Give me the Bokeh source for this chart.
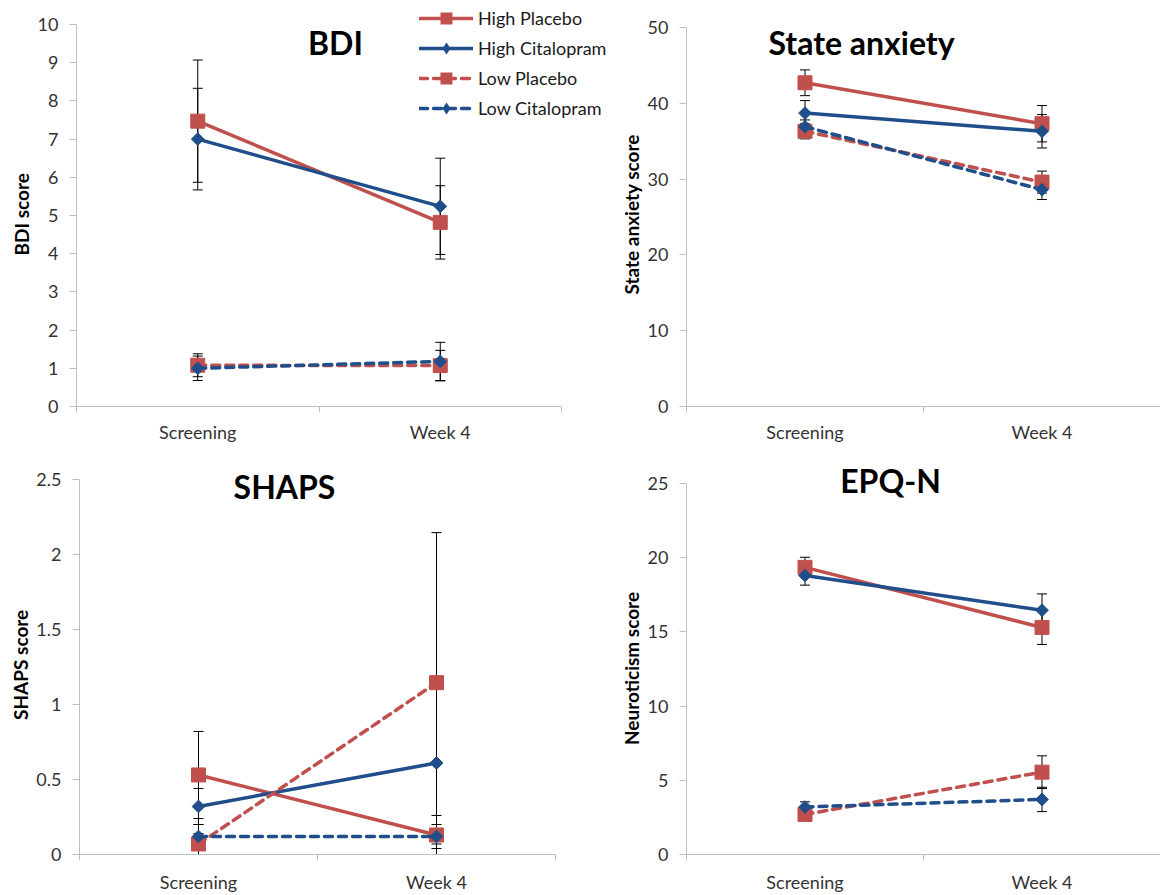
import math

from bokeh.plotting import figure
from bokeh.models import (ColumnDataSource, Range1d, FixedTicker, SingleIntervalTicker,
                          NumeralTickFormatter, Whisker, TeeHead, Legend, LegendItem,
                          Label, Title)
from bokeh.layouts import column, row
from bokeh.embed import file_html
from bokeh.resources import INLINE

# ---- data -------------------------------------------------------------
categories = ["Screening", "Week 4"]
groups = ["High Placebo", "High Citalopram", "Low Placebo", "Low Citalopram"]

# means per group (rows follow `groups`), columns follow `categories`
bdi_mean = [[7.47, 4.82], [7.00, 5.24], [1.08, 1.07], [1.00, 1.18]]
bdi_err = [[1.60, 0.96], [1.33, 1.26], [0.30, 0.40], [0.32, 0.50]]

stai_mean = [[42.7, 37.3], [38.7, 36.3], [36.3, 29.6], [36.9, 28.6]]
stai_err = [[1.7, 2.4], [1.65, 2.2], [1.0, 1.45], [0.9, 1.3]]

shaps_mean = [[0.53, 0.13], [0.32, 0.61], [0.07, 1.145], [0.12, 0.12]]
shaps_err = [[0.29, 0.13], [0.12, 0.54], [0.07, 1.0], [0.08, 0.08]]

epq_mean = [[19.35, 15.3], [18.8, 16.46], [2.70, 5.55], [3.20, 3.71]]
epq_err = [[0.68, 1.15], [0.65, 1.10], [0.40, 1.10], [0.35, 0.82]]

# ---- styling ----------------------------------------------------------
FONT = "Lato"
RED = "#C0504D"
BLUE = "#1F4E8A"
AXIS_GREY = "#BFBFBF"
TICK_TEXT = "#333333"
DASH = "8 6"

# plot marker (with rotation) and the marker shown in the legend
series_style = [
    dict(color=RED, marker="square", size=14, angle=0, key_marker="square", dash="solid"),
    dict(color=BLUE, marker="square", size=9, angle=math.pi / 4, key_marker="diamond", dash="solid"),
    dict(color=RED, marker="square", size=14, angle=0, key_marker="square", dash=DASH),
    dict(color=BLUE, marker="square", size=9, angle=math.pi / 4, key_marker="diamond", dash=DASH),
]

xs = [i + 0.5 for i in range(len(categories))]
edges = list(range(len(categories) + 1))
n_cat = len(categories)


def make_panel(title, ylabel, ylabel_len, means, errs, ymax, step, width, height,
               frame_left, frame_bottom, ytop_px, cat_w, title_xy,
               xlabel_standoff=10, with_legend=False, legend_loc=None):
    # the frame fills the figure to its top and right edges so that the
    # in-plot title and legend are never clipped; axis bounds stop the
    # axis lines at the last category edge and at the top tick
    x_end = (width - frame_left) / cat_w
    y_end = ymax * frame_bottom / (frame_bottom - ytop_px)
    p = figure(width=width, height=height, title=None,
               x_range=Range1d(0, x_end), y_range=Range1d(0, y_end),
               output_backend="svg", toolbar_location=None,
               min_border_left=frame_left, min_border_right=0,
               min_border_top=0, min_border_bottom=height - frame_bottom)
    p.outline_line_color = None
    p.xgrid.visible = False
    p.ygrid.visible = False

    # x axis: labels at category centres, tick marks on category edges
    xa = p.xaxis[0]
    xa.bounds = (0, n_cat)
    xa.ticker = FixedTicker(ticks=xs, minor_ticks=edges)
    xa.major_label_overrides = {x: c for x, c in zip(xs, categories)}
    xa.major_tick_line_color = None
    xa.major_tick_in = 0
    xa.major_tick_out = 0
    xa.minor_tick_line_color = AXIS_GREY
    xa.minor_tick_in = 0
    xa.minor_tick_out = 6
    xa.axis_line_color = AXIS_GREY
    xa.major_label_text_font = FONT
    xa.major_label_text_font_size = "18px"
    xa.major_label_text_color = TICK_TEXT
    xa.major_label_standoff = xlabel_standoff

    ya = p.yaxis[0]
    ya.bounds = (0, ymax)
    ya.ticker = SingleIntervalTicker(interval=step, num_minor_ticks=0)
    ya.formatter = NumeralTickFormatter(format="0.[0]")
    ya.axis_line_color = AXIS_GREY
    ya.major_tick_line_color = AXIS_GREY
    ya.major_tick_in = 0
    ya.major_tick_out = 7
    ya.minor_tick_line_color = None
    ya.major_label_text_font = FONT
    ya.major_label_text_font_size = "18px"
    ya.major_label_text_color = TICK_TEXT
    ya.major_label_standoff = 11

    # y-axis caption, centred on the bounded part of the axis
    # (anchored at the frame bottom and lifted by `offset`)
    offset = (frame_bottom - ytop_px - ylabel_len) / 2
    p.add_layout(Title(text=ylabel, align="left", offset=offset,
                       standoff=4, text_font=FONT, text_font_size="19px",
                       text_font_style="bold", text_color="#000000"), "left")

    items = []
    for name, m, e, st in zip(groups, means, errs, series_style):
        src = ColumnDataSource(dict(
            x=xs, y=m,
            upper=[a + b for a, b in zip(m, e)],
            lower=[a - b for a, b in zip(m, e)],
        ))
        p.add_layout(Whisker(
            source=src, base="x", upper="upper", lower="lower",
            line_color="black", line_width=1,
            upper_head=TeeHead(size=10, line_color="black", line_width=1),
            lower_head=TeeHead(size=10, line_color="black", line_width=1),
        ))
        lr = p.line("x", "y", source=src, line_color=st["color"], line_width=3.5,
                    line_dash=st["dash"], line_cap="round")
        p.scatter("x", "y", source=src, marker=st["marker"], size=st["size"],
                  angle=st["angle"], fill_color=st["color"], line_color=st["color"])
        # legend key marker: zero-sized in the plot, sized by the legend box
        key = p.scatter("x", "y", source=src, marker=st["key_marker"], size=0,
                        fill_color=st["color"], line_color=None)
        items.append(LegendItem(label=name, renderers=[lr, key]))

    tx, ty = title_xy
    p.add_layout(Label(x=tx, y=ty, x_units="screen", y_units="screen", text=title,
                       text_align="center", text_baseline="middle",
                       text_font=FONT, text_font_size="32px", text_font_style="bold",
                       text_color="#000000"))

    if with_legend:
        legend = Legend(items=items, location=legend_loc,
                        glyph_width=54, glyph_height=30, label_height=30, spacing=0,
                        padding=0, margin=0, label_standoff=5,
                        border_line_color=None, background_fill_alpha=0,
                        label_text_font=FONT, label_text_font_size="18px",
                        label_text_color="#1A1A1A")
        p.add_layout(legend)
    return p


p_bdi = make_panel("BDI", "BDI score", 80, bdi_mean, bdi_err, 10, 1,
                   615, 447, 76, 406, 24, 242.5, (259, 364), xlabel_standoff=8,
                   with_legend=True, legend_loc=(343, 283))
p_stai = make_panel("State anxiety", "State anxiety score", 156, stai_mean, stai_err, 50, 10,
                    545, 447, 66, 407, 27, 239.5, (175, 364), xlabel_standoff=8)
p_shaps = make_panel("SHAPS", "SHAPS score", 108, shaps_mean, shaps_err, 2.5, 0.5,
                     615, 448, 79, 409, 32, 238, (205, 368))
p_epq = make_panel("EPQ-N", "Neuroticism score", 152, epq_mean, epq_err, 25, 5,
                   545, 448, 66, 407, 36, 239.5, (204, 374))

layout = column(row(p_bdi, p_stai), row(p_shaps, p_epq))

open("out.html", "w").write(file_html(layout, INLINE))
